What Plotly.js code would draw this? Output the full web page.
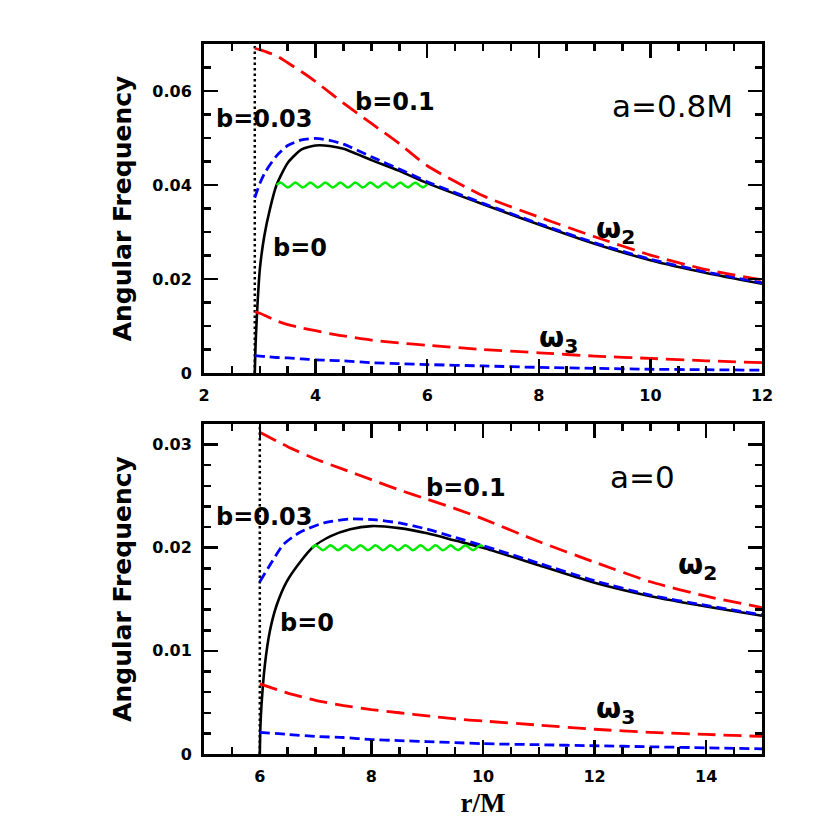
<!DOCTYPE html>
<html>
<head>
<meta charset="utf-8">
<script src="https://cdn.plot.ly/plotly-3.0.1.min.js"></script>
<style>body { margin: 0; background: #fff; }</style>
</head>
<body>
<div id="plot" style="width:830px;height:830px"></div>
<script>
// upper panel, a = 0.8M (ISCO at r = 2.91M)
const iscoTop = 2.91
const rTop = [2.91, 2.92, 2.93, 2.96, 3.0, 3.08, 3.18, 3.3, 3.5, 3.75, 4.0, 4.25, 4.5, 5.0, 5.5, 6.0, 7.0, 8.0, 9.0, 10.0, 11.0, 12.0]
const omega2B0Top = [0, 0.0045, 0.0077, 0.0149, 0.0220, 0.0291, 0.0348, 0.0400, 0.0447, 0.0476, 0.0484, 0.0483, 0.0477, 0.0453, 0.0430, 0.0404, 0.0359, 0.0316, 0.0275, 0.0240, 0.0213, 0.0190]
const rTopB = [2.91, 3.0, 3.1, 3.3, 3.5, 3.75, 4.0, 4.25, 4.5, 5.0, 5.5, 6.0, 7.0, 8.0, 9.0, 10.0, 11.0, 12.0]
const omega2B003Top = [0.0373, 0.0403, 0.0428, 0.0462, 0.0484, 0.0496, 0.0499, 0.0495, 0.0487, 0.0460, 0.0434, 0.0407, 0.0361, 0.0318, 0.0277, 0.0242, 0.0215, 0.0192]
const omega2B01Top = [0.0691, 0.0688, 0.0684, 0.0675, 0.0660, 0.0641, 0.0620, 0.0597, 0.0574, 0.0531, 0.0488, 0.0441, 0.0377, 0.0332, 0.0290, 0.0251, 0.0220, 0.0198]
const omega3B01Top = [0.0131, 0.0127, 0.0122, 0.0111, 0.0103, 0.0096, 0.0090, 0.0084, 0.0079, 0.0070, 0.0064, 0.0059, 0.0050, 0.0043, 0.0036, 0.0031, 0.0026, 0.0022]
const omega3B003Top = [0.0037, 0.0036, 0.0035, 0.0033, 0.0032, 0.0030, 0.0028, 0.0027, 0.0026, 0.0022, 0.0020, 0.0018, 0.0015, 0.0012, 0.0010, 0.0008, 0.0007, 0.0006]
const bandTop = [3.3, 6.0, 0.04] // r from, r to, frequency

// lower panel, a = 0 (ISCO at r = 6M)
const iscoBot = 6
const rBot = [6.0, 6.01, 6.03, 6.09, 6.18, 6.3, 6.48, 6.72, 6.96, 7.26, 7.62, 8.0, 8.5, 9.0, 9.5, 10.0, 11.0, 12.0, 13.0, 14.0, 15.0]
const omega2B0Bot = [0, 0.0025, 0.0047, 0.0086, 0.0119, 0.0144, 0.0167, 0.0186, 0.0201, 0.0211, 0.0218, 0.0221, 0.0219, 0.0214, 0.0207, 0.0200, 0.0183, 0.0166, 0.0153, 0.0143, 0.0134]
const rBotB = [6.0, 6.18, 6.42, 6.72, 7.14, 7.62, 8.09, 8.5, 9.0, 9.5, 10.0, 11.0, 12.0, 13.0, 14.0, 15.0]
const omega2B003Bot = [0.0167, 0.0183, 0.0203, 0.0215, 0.0224, 0.0228, 0.0227, 0.0224, 0.0218, 0.0210, 0.0202, 0.0185, 0.0168, 0.0154, 0.0144, 0.0135]
const rBotR = [6.0, 6.5, 7.0, 7.5, 8.0, 8.5, 9.0, 9.5, 10.0, 11.0, 12.0, 13.0, 14.0, 15.0]
const omega2B01Bot = [0.0312, 0.0298, 0.0286, 0.0276, 0.0266, 0.0256, 0.0247, 0.0238, 0.0228, 0.0206, 0.0186, 0.0167, 0.0153, 0.0142]
const omega3B01Bot = [0.0068, 0.0059, 0.0052, 0.0047, 0.0043, 0.0040, 0.0037, 0.0034, 0.0032, 0.0028, 0.0024, 0.0021, 0.0019, 0.0017]
const omega3B003Bot = [0.0021, 0.0019, 0.0017, 0.0016, 0.0014, 0.0013, 0.0012, 0.0011, 0.0010, 0.0009, 0.0008, 0.0007, 0.0006, 0.0005]
const bandBot = [6.93, 10.0, 0.02]

const xRangeTop = [2, 12]
const yRangeTop = [0, 0.07]
const xRangeBot = [5, 15]
const yRangeBot = [0, 0.032]

const W = 830, H = 830
const margin = { l: 204, r: 68, t: 44, b: 76 }
const domTop = [0.5366, 1]
const domBot = [0, 0.4648]

const RED = 'rgb(255,0,0)'
const BLUE = 'rgb(0,0,255)'
const GREEN = 'rgb(0,235,0)'

// the green band is drawn as a wiggly line (pure decoration, like a spring)
const WAVE_PERIOD_PX = 15
const WAVE_AMP_PX = 2.4
function wiggle (band, xRange, yRange, dom) {
  const [r0, r1, level] = band
  const pxPerR = (W - margin.l - margin.r) / (xRange[1] - xRange[0])
  const pxPerW = (H - margin.t - margin.b) * (dom[1] - dom[0]) / (yRange[1] - yRange[0])
  const period = WAVE_PERIOD_PX / pxPerR
  const amp = WAVE_AMP_PX / pxPerW
  const n = Math.round((r1 - r0) / period * 16)
  const x = []
  const y = []
  for (let i = 0; i <= n; i++) {
    const r = r0 + (r1 - r0) * i / n
    x.push(r)
    y.push(level + amp * Math.sin(2 * Math.PI * (r - r0) / period))
  }
  return { x, y }
}

function line (x, y, color, dash, width, axes, shape) {
  return {
    x: x.slice(), y: y.slice(), type: 'scatter', mode: 'lines',
    line: { color, dash, width, shape: shape || 'spline', smoothing: 0.6 },
    xaxis: axes[0], yaxis: axes[1], hoverinfo: 'skip'
  }
}

const LONG = '18px,8px'
const SHORT = '10px,5px'
const DOT = '2.5px,3px'
const T = ['x2', 'y2']
const B = ['x', 'y']

const wTop = wiggle(bandTop, xRangeTop, yRangeTop, domTop)
const wBot = wiggle(bandBot, xRangeBot, yRangeBot, domBot)

const traces = [
  line([iscoTop, iscoTop], yRangeTop, 'black', DOT, 2.5, T, 'linear'),
  line([iscoBot, iscoBot], yRangeBot, 'black', DOT, 2.5, B, 'linear'),
  line(rTop, omega2B0Top, 'black', 'solid', 2.6, T),
  line(rTopB, omega2B003Top, BLUE, SHORT, 2.8, T),
  line(rTopB, omega2B01Top, RED, LONG, 2.8, T),
  line(rTopB, omega3B01Top, RED, LONG, 2.8, T),
  line(rTopB, omega3B003Top, BLUE, SHORT, 2.8, T),
  line(wTop.x, wTop.y, GREEN, 'solid', 2.4, T, 'linear'),
  line(rBot, omega2B0Bot, 'black', 'solid', 2.6, B),
  line(rBotB, omega2B003Bot, BLUE, SHORT, 2.8, B),
  line(rBotR, omega2B01Bot, RED, LONG, 2.8, B),
  line(rBotR, omega3B01Bot, RED, LONG, 2.8, B),
  line(rBotR, omega3B003Bot, BLUE, SHORT, 2.8, B),
  line(wBot.x, wBot.y, GREEN, 'solid', 2.4, B, 'linear')
]

// every axis and label gets its own font object (sharing one object hid the ticks)
const tickFont = () => ({ family: 'DejaVu Sans', size: 16, color: 'black', weight: 'bold' })
const titleFont = () => ({ family: 'DejaVu Sans', size: 25, color: 'black', weight: 'bold' })

function axis (range, dtick, minor, extra) {
  return Object.assign({
    range: range.slice(), dtick, tick0: 0,
    ticks: 'inside', ticklen: 14, tickwidth: 2.5, tickcolor: 'black',
    minor: { dtick: minor, ticks: 'inside', ticklen: 7, tickwidth: 2.5, tickcolor: 'black' },
    showline: true, linewidth: 3, linecolor: 'black', mirror: 'ticks',
    showgrid: false, zeroline: false, tickfont: tickFont(), ticklabelstandoff: 6
  }, extra)
}

function label (text, x, y, size, weight, ax) {
  const font = { family: 'DejaVu Sans', size, color: 'black' }
  if (weight) font.weight = weight
  return { text, x, y, xref: ax[0], yref: ax[1], showarrow: false, font, xanchor: 'center', yanchor: 'middle' }
}

const annotations = [
  label('b=0.03', 3.09, 0.054, 24, 'bold', T),
  label('b=0.1', 5.42, 0.0577, 24, 'bold', T),
  label('b=0', 3.72, 0.0267, 24, 'bold', T),
  label('a=0.8M', 10.40, 0.0569, 31, null, T),
  label('ω<sub>2</sub>', 9.37, 0.0305, 29, 'bold', T),
  label('ω<sub>3</sub>', 8.36, 0.0073, 29, 'bold', T),
  label('b=0.1', 9.70, 0.0258, 24, 'bold', B),
  label('b=0.03', 6.09, 0.0230, 24, 'bold', B),
  label('b=0', 6.84, 0.01274, 24, 'bold', B),
  label('a=0', 12.86, 0.0269, 31, null, B),
  label('ω<sub>2</sub>', 13.84, 0.0182, 29, 'bold', B),
  label('ω<sub>3</sub>', 12.37, 0.0043, 29, 'bold', B)
]

const layout = {
  width: W, height: H, margin,
  showlegend: false,
  paper_bgcolor: 'white', plot_bgcolor: 'white',
  xaxis: axis(xRangeBot, 2, 0.5, {
    anchor: 'y',
    title: { text: 'r/M', font: { family: 'Liberation Serif', size: 27, color: 'black', weight: 'bold' }, standoff: 8 }
  }),
  yaxis: axis(yRangeBot, 0.01, 0.002, {
    anchor: 'x', domain: domBot,
    title: { text: 'Angular Frequency', font: titleFont(), standoff: 14 }
  }),
  xaxis2: axis(xRangeTop, 2, 0.5, { anchor: 'y2' }),
  yaxis2: axis(yRangeTop, 0.02, 0.005, {
    anchor: 'x2', domain: domTop,
    title: { text: 'Angular Frequency', font: titleFont(), standoff: 14 }
  }),
  annotations
}

Plotly.newPlot('plot', traces, layout, { staticPlot: true })
</script>
</body>
</html>
